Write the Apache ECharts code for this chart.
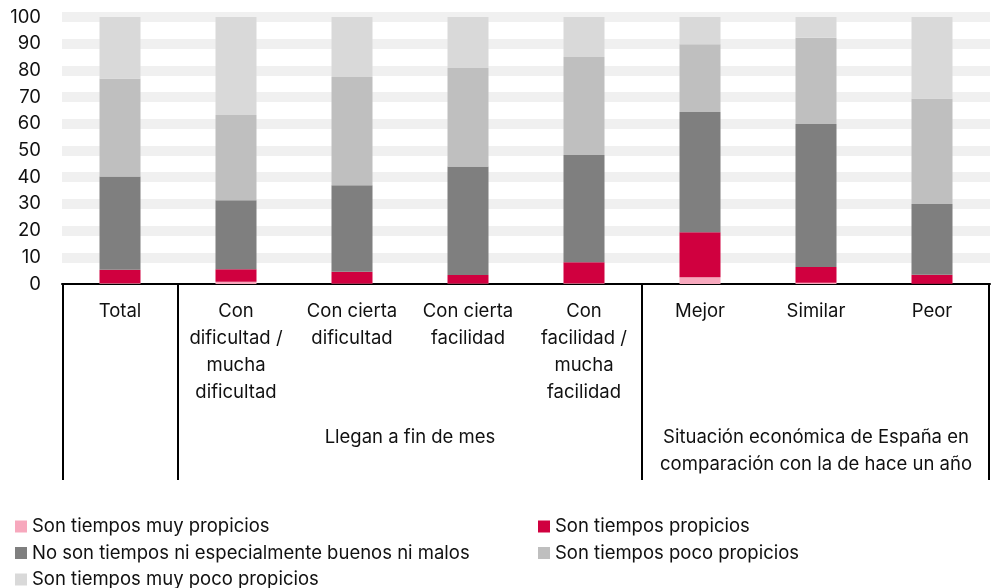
<!DOCTYPE html>
<html>
<head>
<meta charset="utf-8">
<script src="https://cdn.jsdelivr.net/npm/echarts@6/dist/echarts.min.js"></script>
<style>
  html, body { margin: 0; padding: 0; background: #fff; }
  #chart { width: 991px; height: 588px; }
</style>
</head>
<body>
<div id="chart"></div>
<script>
// categorías del eje X
var categories = ['Total', 'Con\ndificultad /\nmucha\ndificultad', 'Con cierta\ndificultad', 'Con cierta\nfacilidad',
    'Con\nfacilidad /\nmucha\nfacilidad', 'Mejor', 'Similar', 'Peor'];

// grupos de categorías: [primer índice, último índice, texto]
var groups = [
    [1, 4, 'Llegan a fin de mes'],
    [5, 7, 'Situación económica de España en\ncomparación con la de hace un año']
];

// series (porcentajes)
var muyPropicios = [0.3, 0.8, 0.2, 0.2, 0.3, 2.5, 0.5, 0.1];
var propicios = [5.0, 4.7, 4.4, 3.2, 7.8, 16.9, 5.9, 3.4];
var niBuenosNiMalos = [35.0, 25.9, 32.4, 40.6, 40.2, 45.0, 53.5, 26.5];
var pocoPropicios = [36.7, 31.9, 40.5, 36.9, 36.7, 25.4, 32.3, 39.4];
var muyPocoPropicios = [23.0, 36.7, 22.5, 19.1, 15.0, 10.2, 7.8, 30.6];

var seriesNames = ['Son tiempos muy propicios', 'Son tiempos propicios',
    'No son tiempos ni especialmente buenos ni malos', 'Son tiempos poco propicios',
    'Son tiempos muy poco propicios'];
var seriesData = [muyPropicios, propicios, niBuenosNiMalos, pocoPropicios, muyPocoPropicios];
var colors = ['#f7a8bd', '#d0003f', '#7f7f7f', '#bfbfbf', '#d9d9d9'];

var FONT = 'Inter';
var FS = 18.5;
var chart = echarts.init(document.getElementById('chart'));

var series = seriesNames.map(function (name, i) {
    return {
        name: name,
        type: 'bar',
        stack: 'total',
        barWidth: 41,
        itemStyle: { color: colors[i] },
        data: seriesData[i]
    };
});

function legendCol(left, names) {
    return {
        orient: 'vertical', left: left, top: 516.5, height: 90, padding: 0,
        itemWidth: 12, itemHeight: 12, itemGap: 6.5, icon: 'rect',
        textStyle: { fontSize: FS, color: '#111', fontFamily: FONT, lineHeight: 20 },
        data: names
    };
}

var option = {
    animation: false,
    color: colors,
    textStyle: { fontFamily: FONT },
    grid: { left: 62, right: 1, top: 17, bottom: 304, containLabel: false },
    legend: [
        legendCol(15, [seriesNames[0], seriesNames[2], seriesNames[4]]),
        legendCol(538, [seriesNames[1], seriesNames[3]])
    ],
    xAxis: {
        type: 'category',
        data: categories,
        axisLine: { lineStyle: { color: '#000', width: 2 } },
        axisTick: { show: false },
        axisLabel: { interval: 0, fontSize: FS, color: '#111', lineHeight: 27, margin: 14, fontFamily: FONT }
    },
    yAxis: {
        type: 'value',
        min: 0, max: 100, interval: 10,
        axisLine: { show: false },
        axisTick: { show: false },
        axisLabel: { fontSize: FS, color: '#111', margin: 21, fontFamily: FONT },
        splitLine: { show: true, showMinLine: false, lineStyle: { color: '#f0f0f0', width: 10 } }
    },
    series: series
};

chart.setOption(option);

// líneas divisorias y textos de grupo, a partir de las escalas del gráfico
function drawDividers() {
    var c0 = chart.convertToPixel({ xAxisIndex: 0 }, 0);
    var c1 = chart.convertToPixel({ xAxisIndex: 0 }, 1);
    var band = c1 - c0;
    var y0 = chart.convertToPixel({ yAxisIndex: 0 }, 0);
    var bottom = 480;

    function boundary(i) {
        return c0 + band * i - band / 2;
    }

    var cuts = [0, 1, 5, categories.length];
    var elements = cuts.map(function (i) {
        var x = Math.round(boundary(i));
        if (i === 0) x += 1;
        if (i === categories.length) x -= 1;
        return {
            type: 'line',
            shape: { x1: x, y1: y0, x2: x, y2: bottom },
            style: { stroke: '#000', lineWidth: 2 }
        };
    });

    groups.forEach(function (g) {
        var xc = (boundary(g[0]) + boundary(g[1] + 1)) / 2;
        elements.push({
            type: 'text',
            x: xc,
            y: 424,
            style: {
                text: g[2], fill: '#111', font: FS + 'px ' + FONT,
                align: 'center', verticalAlign: 'top', lineHeight: 27
            }
        });
    });

    chart.setOption({ graphic: elements });
}

drawDividers();
</script>
</body>
</html>
